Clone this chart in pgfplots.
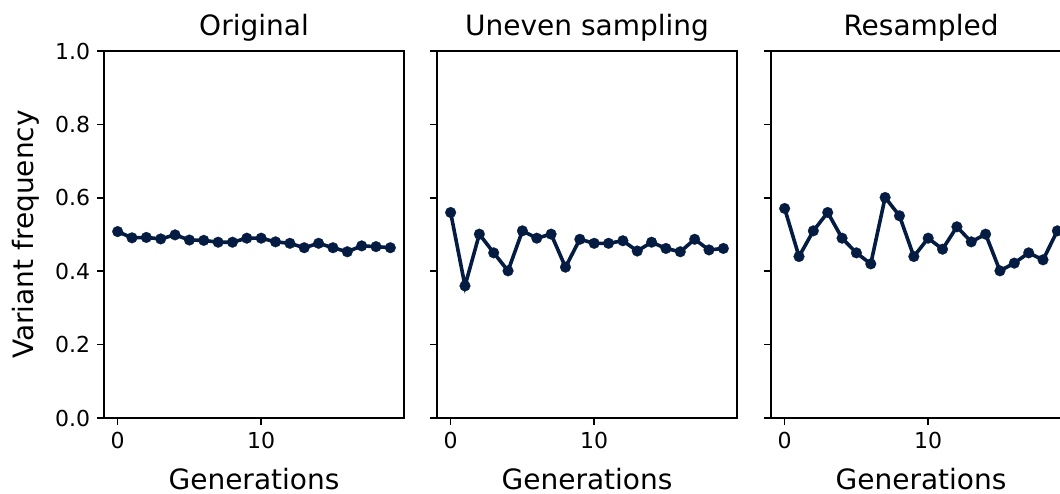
\documentclass[border=0pt]{standalone}
\usepackage{fontspec}
\setmainfont{DejaVu Sans}
\usepackage{pgfplots}
\pgfplotsset{compat=1.18}
\definecolor{navy}{HTML}{041B42}
\pgfplotstableread{
x y
0 0.508
1 0.491
2 0.492
3 0.488
4 0.499
5 0.485
6 0.484
7 0.479
8 0.479
9 0.490
10 0.490
11 0.480
12 0.476
13 0.464
14 0.476
15 0.464
16 0.453
17 0.469
18 0.467
19 0.464
}\orig
\pgfplotstableread{
x y
0 0.560
1 0.360
2 0.501
3 0.450
4 0.401
5 0.510
6 0.490
7 0.501
8 0.411
9 0.487
10 0.476
11 0.476
12 0.483
13 0.455
14 0.479
15 0.462
16 0.453
17 0.487
18 0.458
19 0.462
}\uneven
\pgfplotstableread{
x y
0 0.571
1 0.440
2 0.510
3 0.560
4 0.490
5 0.450
6 0.420
7 0.601
8 0.551
9 0.440
10 0.490
11 0.460
12 0.521
13 0.480
14 0.501
15 0.401
16 0.422
17 0.450
18 0.431
19 0.510
}\resampled
\pgfplotsset{
  panel/.style={
    scale only axis, width=150pt, height=183.5pt, anchor=south west,
    xmin=-0.95, xmax=19.95, ymin=0, ymax=1,
    xtick={0,10}, ytick={0,0.2,0.4,0.6,0.8,1.0},
    tick align=outside, xtick pos=bottom, ytick pos=left,
    major tick length=3.5pt,
    tick style={line width=0.8pt, black},
    axis line style={line width=0.8pt},
    every axis/.append style={line width=0.8pt},
    /pgf/number format/assume math mode=true,
    y tick label style={/pgf/number format/fixed, /pgf/number format/fixed zerofill, /pgf/number format/precision=1},
    ticklabel style={font=\fontsize{11}{13.2}\selectfont},
    yticklabel style={anchor=east, inner sep=0pt, xshift=-3pt},
    xticklabel style={anchor=north, inner sep=0pt, yshift=-3pt},
    title style={at={(axis description cs:0.5,1.0409)}, anchor=base, yshift=-6pt, inner sep=0pt, font=\fontsize{14}{16.8}\selectfont},
    xlabel style={at={(axis description cs:0.5,-0.1935)}, anchor=base, inner sep=0pt, font=\fontsize{14}{16.8}\selectfont},
    ylabel style={at={(axis description cs:-0.235,0.5)}, anchor=base, inner sep=0pt, font=\fontsize{14}{16.8}\selectfont},
    xlabel={Generations},
  },
  series/.style={color=navy, line width=1.8pt, mark=*, mark size=2.7pt, mark options={solid, fill=navy, draw=navy, line width=0.1pt}},
}
\begin{document}
\begin{tikzpicture}
\clip (0,0) rectangle (530pt,-246.5pt);
\begin{axis}[panel, at={(52pt,-209pt)}, title={Original}, ylabel={Variant frequency}]
\addplot[series] table[x=x,y=y] {\orig};
\end{axis}
\begin{axis}[panel, at={(218.5pt,-209pt)}, title={Uneven sampling}, yticklabels={}]
\addplot[series] table[x=x,y=y] {\uneven};
\end{axis}
\begin{axis}[panel, at={(385.5pt,-209pt)}, title={Resampled}, yticklabels={}]
\addplot[series] table[x=x,y=y] {\resampled};
\end{axis}
\end{tikzpicture}
\end{document}
